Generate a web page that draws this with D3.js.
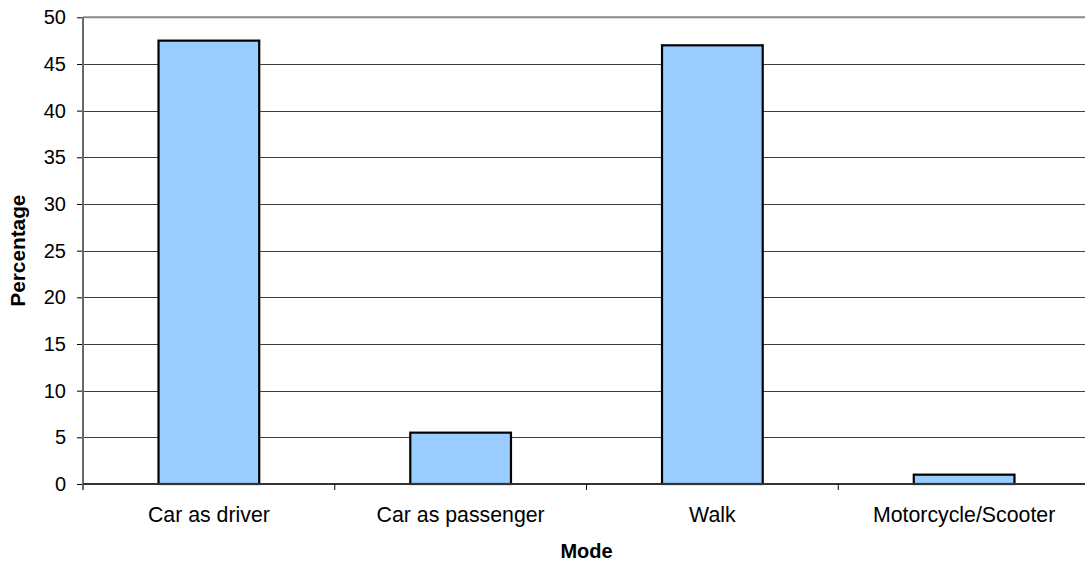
<!DOCTYPE html>
<html>
<head>
<meta charset="utf-8">
<script src="https://cdn.jsdelivr.net/npm/d3@7"></script>
<style>
  html, body { margin: 0; padding: 0; background: #ffffff; }
  svg { display: block; font-family: "Liberation Sans", Arial, sans-serif; }
</style>
</head>
<body>
<svg id="chart" width="1085" height="563"></svg>
<script>
// Share of trips by travel mode
const modes = ["Car as driver", "Car as passenger", "Walk", "Motorcycle/Scooter"];
const percentages = [47.5, 5.5, 47, 1];
const yTicks = [0, 5, 10, 15, 20, 25, 30, 35, 40, 45, 50];
const xTitle = "Mode";
const yTitle = "Percentage";

const svg = d3.select("#chart");
const plot = { left: 83, right: 1090, top: 17.3, bottom: 484 };

const x = d3.scaleBand()
  .domain(modes)
  .range([plot.left, plot.right])
  .paddingInner(0.6)
  .paddingOuter(0.3);

const y = d3.scaleLinear()
  .domain([0, 50])
  .range([plot.bottom, plot.top]);

// horizontal gridlines
svg.append("g")
  .selectAll("line")
  .data(yTicks.filter(t => t > 0 && t < 50))
  .join("line")
  .attr("x1", plot.left)
  .attr("x2", plot.right)
  .attr("y1", d => Math.round(y(d)) + 0.5)
  .attr("y2", d => Math.round(y(d)) + 0.5)
  .attr("stroke", "#3c3c3c")
  .attr("stroke-width", 1);

// top border of the plot area
svg.append("line")
  .attr("x1", plot.left).attr("x2", plot.right)
  .attr("y1", y(50)).attr("y2", y(50))
  .attr("stroke", "#8a8a8a").attr("stroke-width", 2);

// bars
svg.append("g")
  .selectAll("rect")
  .data(modes.map((m, i) => ({ mode: m, value: percentages[i] })))
  .join("rect")
  .attr("x", d => x(d.mode))
  .attr("width", x.bandwidth())
  .attr("y", d => y(d.value))
  .attr("height", d => y(0) - y(d.value))
  .attr("fill", "#99ccff")
  .attr("stroke", "#000000")
  .attr("stroke-width", 2.2);

// y axis
const yAxis = d3.axisLeft(y)
  .tickValues(yTicks)
  .tickSize(6)
  .tickPadding(11)
  .tickSizeOuter(0);

const gy = svg.append("g")
  .attr("transform", `translate(${plot.left},0)`)
  .call(yAxis);
gy.select(".domain").remove();
gy.selectAll(".tick line").attr("stroke", "#000").attr("stroke-width", 1);
gy.selectAll(".tick text")
  .attr("font-size", 20)
  .attr("font-family", "Liberation Sans, Arial, sans-serif")
  .attr("fill", "#000");
gy.append("line")
  .attr("x1", 0).attr("x2", 0)
  .attr("y1", plot.top).attr("y2", plot.bottom + 6)
  .attr("stroke", "#6a6a6a").attr("stroke-width", 2);

// x axis: ticks fall on category boundaries
const gx = svg.append("g")
  .attr("transform", `translate(0,${plot.bottom})`);
gx.append("line")
  .attr("x1", plot.left).attr("x2", plot.right)
  .attr("y1", 0).attr("y2", 0)
  .attr("stroke", "#333").attr("stroke-width", 2);
const boundaries = modes.slice(1).map(m => x(m) - x.step() * x.paddingInner() / 2);
gx.selectAll("line.sep")
  .data(boundaries)
  .join("line")
  .attr("class", "sep")
  .attr("x1", d => d).attr("x2", d => d)
  .attr("y1", 0).attr("y2", 6)
  .attr("stroke", "#000").attr("stroke-width", 1);
gx.selectAll("text.cat")
  .data(modes)
  .join("text")
  .attr("class", "cat")
  .attr("x", d => x(d) + x.bandwidth() / 2)
  .attr("y", 38)
  .attr("text-anchor", "middle")
  .attr("font-size", 21.3)
  .attr("fill", "#000")
  .text(d => d);

// axis titles
svg.append("text")
  .attr("x", (plot.left + 1090) / 2)
  .attr("y", 558)
  .attr("text-anchor", "middle")
  .attr("font-size", 20)
  .attr("font-weight", "bold")
  .text(xTitle);

svg.append("text")
  .attr("transform", `translate(25,${(plot.top + plot.bottom) / 2}) rotate(-90)`)
  .attr("text-anchor", "middle")
  .attr("font-size", 20.8)
  .attr("font-weight", "bold")
  .text(yTitle);
</script>
</body>
</html>
